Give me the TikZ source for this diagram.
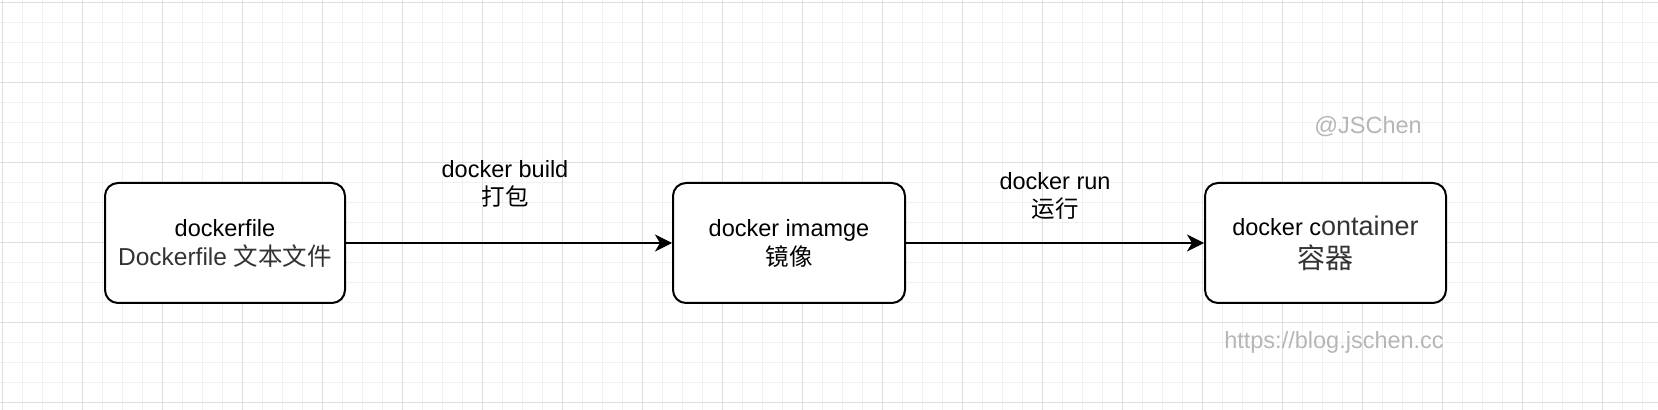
\documentclass[tikz,border=0pt]{standalone}
\usepackage{fontspec}
\setmainfont{Liberation Sans}
\newfontfamily\cjk{Noto Sans CJK SC}
\usetikzlibrary{arrows.meta}
\definecolor{gridminor}{RGB}{241,241,241}
\definecolor{gridmajor}{RGB}{222,222,222}
\definecolor{txtgray}{RGB}{51,51,51}
\definecolor{markgray}{RGB}{182,182,182}

\begin{document}
\begin{tikzpicture}[x=0.5pt,y=-0.5pt,
    stage/.style={draw,line width=1pt,rounded corners=6.5pt,fill=white,
      minimum height=60pt,align=center,inner sep=0pt,
      font=\fontsize{11.75}{14.5}\selectfont},
    flow/.style={line width=1pt,-{Stealth[length=8.5pt,width=8.5pt,inset=2.5pt]}},
    cmd/.style={align=center,inner sep=0pt,font=\fontsize{11.75}{14}\selectfont},
    wmark/.style={text=markgray,inner sep=0pt,font=\fontsize{11.75}{14}\selectfont}]
  \useasboundingbox (0,0) rectangle (1658,410);

  %%%%%%%%%%%%%%%%%%%%%%%%%%%%%%%%%%%%%%%%%%%%%%%%%%%%%%%%%%%%%%%%%%%%%%%%%%%
  %%%%  Grid
  \foreach \i in {0,...,82}
   {\draw[gridminor,line width=0.5pt] ({2.3+20*\i},0) -- ({2.3+20*\i},410);};
  \foreach \i in {0,...,20}
   {\draw[gridminor,line width=0.5pt] (0,{2.3+20*\i}) -- (1658,{2.3+20*\i});};
  \foreach \i in {0,...,20}
   {\draw[gridmajor,line width=0.5pt] ({2.3+80*\i},0) -- ({2.3+80*\i},410);};
  \foreach \i in {0,...,5}
   {\draw[gridmajor,line width=0.5pt] (0,{2.3+80*\i}) -- (1658,{2.3+80*\i});};

  %%%%%%%%%%%%%%%%%%%%%%%%%%%%%%%%%%%%%%%%%%%%%%%%%%%%%%%%%%%%%%%%%%%%%%%%%%%
  %%%%  Stages
  \node[stage,minimum width=120pt] (dockerfile) at (225,243)
    {dockerfile\\{\color{txtgray}\fontsize{12.25}{14.5}\selectfont Dockerfile {\cjk 文本文件}}};
  \node[stage,minimum width=116pt] (image) at (789,243)
    {docker imamge\\{\cjk 镜像}};
  \node[stage,minimum width=120.5pt,font=\fontsize{11.75}{16.5}\selectfont] (container) at (1325.5,243)
    {docker c{\color{txtgray}\fontsize{13.5}{16.5}\selectfont ontainer}\\
     {\color{txtgray}\fontsize{14}{16.5}\selectfont\cjk 容器}};

  %%%%%%%%%%%%%%%%%%%%%%%%%%%%%%%%%%%%%%%%%%%%%%%%%%%%%%%%%%%%%%%%%%%%%%%%%%%
  %%%%  Arrows
  \draw[flow] (dockerfile) -- node[cmd,yshift=29.5pt,xshift=-2pt] (build)
    {docker build\\{\cjk 打包}} (image);
  \draw[flow] (image) -- node[cmd,yshift=23.5pt] (run)
    {docker run\\{\cjk 运行}} (container);

  % watermark
  \node[wmark] (author) at (1368,127) {@JSChen};
  \node[wmark] (blog) at (1334,342) {https://blog.jschen.cc};
\end{tikzpicture}
\end{document}
